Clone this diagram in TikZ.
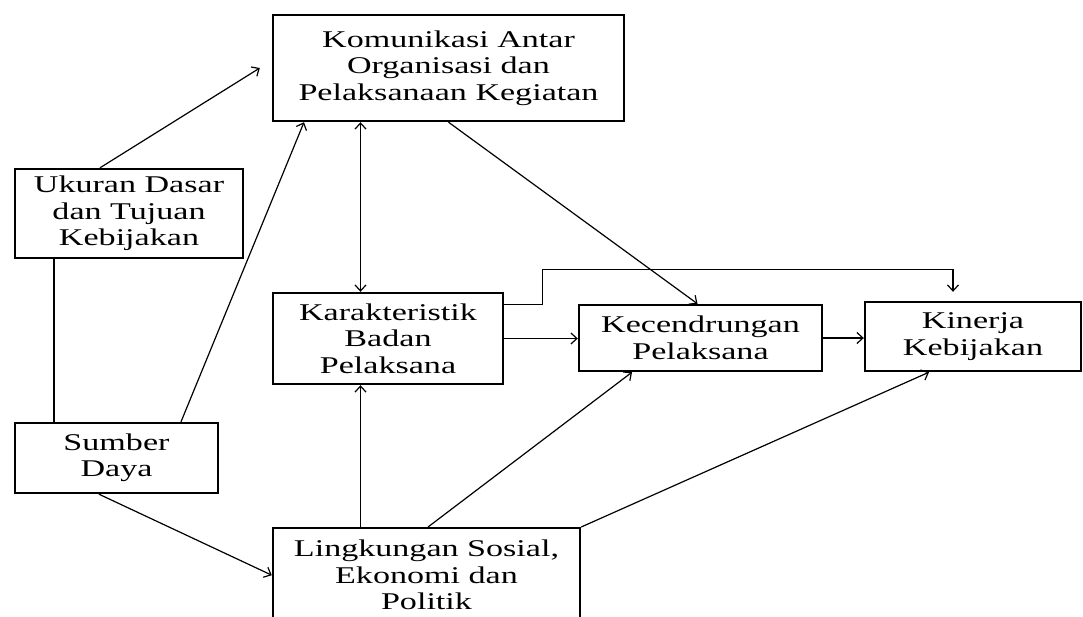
\documentclass[tikz,border=0pt]{standalone}
\usepackage{fontspec}
\setmainfont{Liberation Serif}[FakeStretch=1.42]
\usetikzlibrary{arrows.meta,calc}
\begin{document}
\begin{tikzpicture}[x=1pt,y=-1pt,
  box/.style={draw, line width=2.4pt, align=center, inner sep=0pt,
    font=\fontsize{24}{26.5}\selectfont},
  ln/.style={line width=1.2pt},
  arr/.style={ln, -{Straight Barb[length=6pt,width=11pt]}},
  darr/.style={ln, {Straight Barb[length=6pt,width=11pt]}-{Straight Barb[length=6pt,width=11pt]}}]
\useasboundingbox[fill=white] (0,0) rectangle (1083,616);

\node[box, minimum width=351pt, minimum height=106pt] (kom) at (448.5,68)
  {Komunikasi Antar\\Organisasi dan\\Pelaksanaan Kegiatan};
\node[box, minimum width=228pt, minimum height=89pt] (uk) at (129,213.5)
  {Ukuran Dasar\\dan Tujuan\\Kebijakan};
\node[box, minimum width=203pt, minimum height=70pt] (sd) at (116.5,458)
  {Sumber\\Daya};
\node[box, minimum width=230pt, minimum height=91pt] (kar) at (388,338.5)
  {Karakteristik\\Badan\\Pelaksana};
\node[box, minimum width=243pt, minimum height=66pt] (kec) at (700.5,338)
  {Kecendrungan\\Pelaksana};
\node[box, minimum width=216pt, minimum height=69pt] (kin) at (973,336.5)
  {Kinerja\\Kebijakan};
\node[box, anchor=north, minimum width=307pt, minimum height=94pt] (ling) at (426.5,527)
  {Lingkungan Sosial,\\Ekonomi dan\\Politik};

\draw[arr] ([xshift=-29pt]uk.north) -- ([xshift=-12pt]kom.west);
\draw[arr] ([xshift=64.5pt]sd.north) -- ([xshift=-144.5pt]kom.south);
\draw[ln] ([xshift=-75pt]uk.south) -- ([xshift=-75pt]uk.south |- sd.north);
\draw[darr] ([xshift=-27.5pt]kar.north) -- ([xshift=-27.5pt]kar.north |- kom.south);
\draw[arr] (kom.south) -- ([xshift=-3pt]kec.north);
\draw[arr] ([yshift=34pt]kar.east) -- ++(38,0) |- ([xshift=-20pt,yshift=31pt]kin.north)
  -- ([xshift=-20pt,yshift=9pt]kin.north);
\draw[arr] (kar.east) -- (kar.east -| kec.west);
\draw[arr] (kec.east) -- (kec.east -| kin.west);
\draw[arr] ([xshift=-66pt]ling.north) -- ([xshift=-66pt]ling.north |- kar.south);
\draw[arr] ([xshift=1.5pt]ling.north) -- ([xshift=-68.5pt]kec.south);
\draw[arr] (ling.north east) -- ([xshift=-44pt]kin.south);
\draw[arr] ([xshift=-17.5pt]sd.south) -- (ling.west);
\end{tikzpicture}
\end{document}
